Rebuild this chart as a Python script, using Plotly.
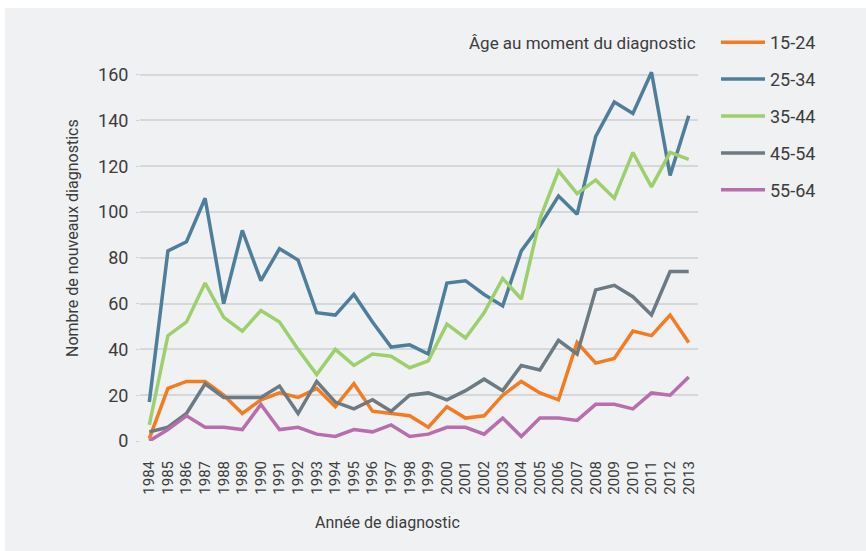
import plotly.graph_objects as go

years = list(range(1984, 2014))
age_groups = ["15-24", "25-34", "35-44", "45-54", "55-64"]

v_15_24 = [1, 23, 26, 26, 20, 12, 18, 21, 19, 23, 15, 25, 13, 12, 11, 6,
           15, 10, 11, 20, 26, 21, 18, 43, 34, 36, 48, 46, 55, 43]
v_25_34 = [17, 83, 87, 106, 60, 92, 70, 84, 79, 56, 55, 64, 52, 41, 42, 38,
           69, 70, 64, 59, 83, 94, 107, 99, 133, 148, 143, 161, 116, 142]
v_35_44 = [7, 46, 52, 69, 54, 48, 57, 52, 40, 29, 40, 33, 38, 37, 32, 35,
           51, 45, 56, 71, 62, 97, 118, 108, 114, 106, 126, 111, 126, 123]
v_45_54 = [4, 6, 12, 25, 19, 19, 19, 24, 12, 26, 17, 14, 18, 13, 20, 21,
           18, 22, 27, 22, 33, 31, 44, 38, 66, 68, 63, 55, 74, 74]
v_55_64 = [0, 5, 11, 6, 6, 5, 16, 5, 6, 3, 2, 5, 4, 7, 2, 3,
           6, 6, 3, 10, 2, 10, 10, 9, 16, 16, 14, 21, 20, 28]

series = [v_15_24, v_25_34, v_35_44, v_45_54, v_55_64]
colors = ["#f47b20", "#4f7e9b", "#9dcf6d", "#6c7a83", "#b86dac"]

FONT = "Roboto, sans-serif"
TXT = "#3c3c3c"

W, H = 866, 551
L, R, T, B = 140, 168, 67, 110
pw, ph = W - L - R, H - T - B

def px_x(x):
    return (x - L) / pw

def px_y(y):
    return (H - B - y) / ph

fig = go.Figure()
for name, vals, col in zip(age_groups, series, colors):
    fig.add_trace(go.Scatter(
        x=years, y=vals, mode="lines", name=name, legendgroup=name,
        line=dict(color=col, width=3.5),
    ))

fig.add_shape(type="rect", xref="paper", yref="paper", layer="below",
              x0=px_x(5), x1=px_x(W + 20), y0=px_y(H + 20), y1=px_y(8),
              fillcolor="#f0f1f3", line=dict(width=0))

fig.add_annotation(text="Âge au moment du diagnostic", xref="paper", yref="paper",
                   x=px_x(698), y=px_y(43), xanchor="right", yanchor="middle",
                   showarrow=False, font=dict(family=FONT, size=17, color=TXT))
fig.add_annotation(text="Nombre de nouveaux diagnostics", xref="paper", yref="paper",
                   x=px_x(72), y=px_y(238), xanchor="center", yanchor="middle",
                   textangle=-90, showarrow=False,
                   font=dict(family=FONT, size=16, color=TXT))
fig.add_annotation(text="Année de diagnostic", xref="paper", yref="paper",
                   x=px_x(387), y=px_y(522), xanchor="center", yanchor="middle",
                   showarrow=False, font=dict(family=FONT, size=16, color=TXT))

fig.update_layout(
    width=W, height=H,
    margin=dict(l=L, r=R, t=T, b=B, pad=0),
    paper_bgcolor="white", plot_bgcolor="rgba(0,0,0,0)",
    font=dict(family=FONT, color=TXT),
    showlegend=True,
    legend=dict(x=px_x(716), xanchor="left", y=px_y(24), yanchor="top",
                font=dict(family=FONT, size=18, color=TXT),
                bgcolor="rgba(0,0,0,0)", tracegroupgap=10.5,
                itemwidth=44),
    xaxis=dict(
        tickmode="array", tickvals=years, ticktext=[str(y) for y in years],
        range=[1983.5, 2013.5], tickangle=-90, showgrid=False, zeroline=False,
        showline=False, ticks="", ticklabelstandoff=16,
        tickfont=dict(family=FONT, size=15, color=TXT),
    ),
    yaxis=dict(
        range=[0, ph / 2.29], tickvals=[0, 20, 40, 60, 80, 100, 120, 140, 160],
        showgrid=True, gridcolor="#d6d7d9", gridwidth=1.5, zeroline=False,
        ticks="outside", ticklen=3, tickcolor="#cfd0d2", ticklabelstandoff=4,
        tickfont=dict(family=FONT, size=18, color=TXT),
    ),
)

fig.write_html("out.html", config={"displayModeBar": False},
               post_script="document.body.style.margin='0';")
